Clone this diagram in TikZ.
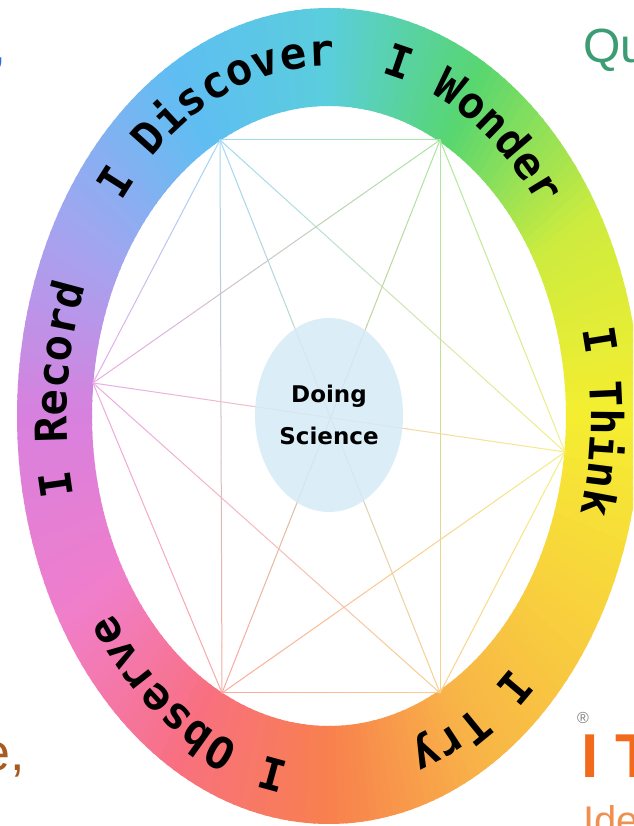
\documentclass[tikz,border=0pt]{standalone}
\usepackage{fontspec}
\usepackage{tikz}
\usetikzlibrary{decorations.text,shapes.geometric,calc}
\newfontfamily\ringfont{DejaVu Sans Mono}
\newfontfamily\labelfont{DejaVu Sans}
\newfontfamily\slidefont{Liberation Sans}
\newcommand\ringstyle{\ringfont\bfseries\fontsize{44}{44}\selectfont}

\definecolor{ring0}{HTML}{F5EE30}
\definecolor{ring1}{HTML}{CDEB3E}
\definecolor{ring2}{HTML}{58D670}
\definecolor{ring3}{HTML}{5ACEDC}
\definecolor{ring4}{HTML}{5EBEF2}
\definecolor{ring5}{HTML}{A0A6F0}
\definecolor{ring6}{HTML}{D880DE}
\definecolor{ring7}{HTML}{F07ECB}
\definecolor{ring8}{HTML}{F87080}
\definecolor{ring9}{HTML}{F8804E}
\definecolor{ring10}{HTML}{F8B447}
\definecolor{ring11}{HTML}{F8D23D}
\definecolor{ring12}{HTML}{F5EE30}
\definecolor{ptDiscover}{HTML}{5EC0F0}
\definecolor{ptWonder}{HTML}{70D860}
\definecolor{ptThink}{HTML}{F0E430}
\definecolor{ptTry}{HTML}{F8B040}
\definecolor{ptObserve}{HTML}{F87060}
\definecolor{ptRecord}{HTML}{E070D8}
\definecolor{sky}{HTML}{D5EBF6}
\definecolor{quGreen}{HTML}{3C9C74}
\definecolor{commaBlue}{HTML}{2E6CE0}
\definecolor{eBrown}{HTML}{A85A20}
\definecolor{itOrange}{HTML}{F26B1D}
\definecolor{ideOrange}{HTML}{F09050}

\begin{document}
\begin{tikzpicture}[x=1pt, y=1pt, edge/.style={line width=1pt, line cap=round}, science/.style={ellipse, fill=sky, fill opacity=0.85, text opacity=1, minimum width=148pt, minimum height=194pt, inner sep=0pt, align=center, font=\labelfont\bfseries\fontsize{23}{42}\selectfont}, ringtext/.style={decorate, decoration={text along path, text align=center, text={|\ringstyle|#1}}}, slide/.style={inner sep=0pt, font=\slidefont}]
\useasboundingbox (0,0) rectangle (633,826);
\fill[white] (0,0) rectangle (633,826);
\clip (0,0) rectangle (633,826);
\begin{scope}[shift={(329,410)}]
\foreach \i [evaluate=\i as \j using int(\i+1)] in {0,...,11}
  \foreach \k in {0,...,19} {
    \pgfmathsetmacro\a{30*\i+1.5*\k}
    \pgfmathtruncatemacro\p{98-5*\k}
    \fill[ring\i!\p!ring\j] (\a:312pt and 408pt) arc[start angle=\a, delta angle=1.9, x radius=312pt, y radius=408pt] -- ({\a+1.9}:237pt and 310pt) arc[start angle=\a+1.9, delta angle=-1.9, x radius=237pt, y radius=310pt] -- cycle;
  }
\path[ringtext=I Discover] (163:262pt and 350pt) arc[start angle=163, end angle=63, x radius=262pt, y radius=350pt];
\path[ringtext=I Wonder] (111:262pt and 350pt) arc[start angle=111, end angle=11, x radius=262pt, y radius=350pt];
\path[ringtext=I Think] (49:262pt and 350pt) arc[start angle=49, end angle=-51, x radius=262pt, y radius=350pt];
\path[ringtext=I Try] (-13:262pt and 350pt) arc[start angle=-13, end angle=-113, x radius=262pt, y radius=350pt];
\path[ringtext=I Observe] (-69:262pt and 350pt) arc[start angle=-69, end angle=-169, x radius=262pt, y radius=350pt];
\path[ringtext=I Record] (225:262pt and 350pt) arc[start angle=225, end angle=125, x radius=262pt, y radius=350pt];
\end{scope}
\coordinate (pDiscover) at (220,686);
\coordinate (pWonder) at (440,686);
\coordinate (pThink) at (565,374);
\coordinate (pTry) at (440,133);
\coordinate (pObserve) at (222,133);
\coordinate (pRecord) at (93,443);
\foreach \u/\v in {Discover/Wonder, Discover/Think, Discover/Try, Discover/Observe, Discover/Record, Wonder/Think, Wonder/Try, Wonder/Observe, Wonder/Record, Think/Try, Think/Observe, Think/Record, Try/Observe, Try/Record, Observe/Record}
  \foreach \s in {0,...,11} {
    \pgfmathsetmacro\fa{\s/12}
    \pgfmathsetmacro\fb{(\s+1)/12}
    \pgfmathtruncatemacro\mix{100-100*(\s+0.5)/12}
    \draw[edge, draw=pt\u!\mix!pt\v!60!white] ($(p\u)!\fa!(p\v)$) -- ($(p\u)!\fb!(p\v)$);
  }
\node[science] (science) at (329,411) {Doing\\Science};
\node[slide, anchor=base west, text=quGreen, font=\slidefont\fontsize{48}{48}\selectfont] (question) at (583,763) {Qu};
\node[slide, anchor=base east, text=commaBlue, font=\slidefont\fontsize{44}{44}\selectfont] (comma) at (6,763) {,};
\node[slide, anchor=base east, text=eBrown, font=\slidefont\fontsize{52}{52}\selectfont] (ending) at (25,55) {e,};
\node[slide, text=gray, font=\slidefont\fontsize{16}{16}\selectfont] (registered) at (583,108) {®};
\node[slide, anchor=base west, text=itOrange, font=\slidefont\bfseries\fontsize{62}{62}\selectfont] (itry) at (581,48) {I T};
\node[slide, anchor=base west, text=ideOrange, font=\slidefont\fontsize{40}{40}\selectfont] (idea) at (583,-9) {Ide};
\end{tikzpicture}
\end{document}
